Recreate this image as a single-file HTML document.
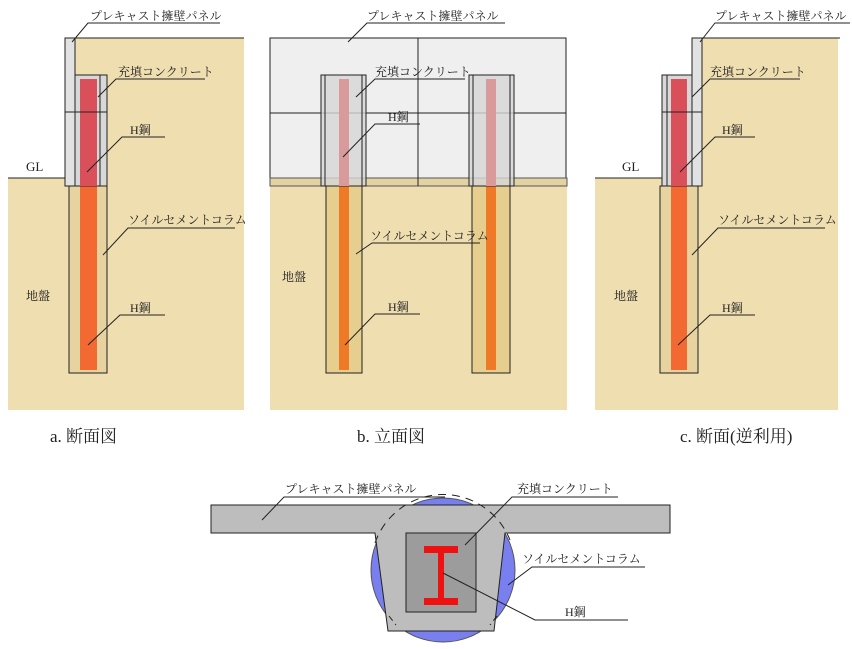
<!DOCTYPE html>
<html><head><meta charset="utf-8"><style>
html,body{margin:0;padding:0;background:#fff;width:852px;height:649px;overflow:hidden}
svg text{font-family:"Liberation Serif","Noto Serif CJK SC","Noto Sans CJK JP",serif;fill:#222}
</style></head><body>
<svg width="852" height="649" viewBox="0 0 852 649" xmlns="http://www.w3.org/2000/svg">
<g stroke="#222" stroke-width="1">
<!-- Panel a -->
<rect x="8" y="178" width="236" height="232" fill="#efdeb0" stroke="none"/>
<rect x="75" y="38" width="169" height="140" fill="#efdeb0" stroke="none"/>
<line x1="75" y1="38" x2="244" y2="38"/>
<line x1="8" y1="178" x2="65" y2="178"/>
<rect x="69" y="186" width="38" height="187" fill="#e6d3a0"/>
<rect x="80" y="186" width="17" height="184" fill="#f26a32" stroke="none"/>
<rect x="65" y="38" width="10" height="148" fill="#e2e2e2"/>
<rect x="75" y="75" width="32" height="111" fill="#d8d8d8"/>
<rect x="80" y="79" width="17" height="107" fill="#d9505a" stroke="none"/>
<line x1="100" y1="75" x2="100" y2="186"/>
<line x1="65" y1="112" x2="107" y2="112"/>
<!-- Panel b -->
<rect x="270" y="178" width="297" height="232" fill="#efdeb0" stroke="none"/>
<rect x="270" y="38" width="296" height="148" fill="#efefef"/>
<rect x="270" y="178" width="297" height="8" fill="#e4d3a2" stroke="#555"/>
<line x1="418" y1="38" x2="418" y2="186"/>
<line x1="270" y1="113" x2="566" y2="113"/>
<rect x="326" y="186" width="36" height="187" fill="#e6cf8e"/>
<rect x="339" y="186" width="10" height="184" fill="#ee7a28" stroke="none"/>
<rect x="472" y="186" width="38" height="187" fill="#e6cf8e"/>
<rect x="486" y="186" width="10" height="184" fill="#ee7a28" stroke="none"/>
<rect x="321" y="75" width="45" height="111" fill="#d6d6d6" fill-opacity="0.8"/>
<line x1="325" y1="75" x2="325" y2="186"/><line x1="362" y1="75" x2="362" y2="186"/>
<rect x="339" y="79" width="10" height="107" fill="#d99a9c" stroke="none"/>
<rect x="469" y="75" width="45" height="111" fill="#d6d6d6" fill-opacity="0.8"/>
<line x1="473" y1="75" x2="473" y2="186"/><line x1="510" y1="75" x2="510" y2="186"/>
<rect x="486" y="79" width="10" height="107" fill="#d99a9c" stroke="none"/>
<!-- Panel c -->
<rect x="595" y="178" width="243" height="232" fill="#efdeb0" stroke="none"/>
<rect x="702" y="38" width="136" height="140" fill="#efdeb0" stroke="none"/>
<line x1="702" y1="38" x2="840" y2="38"/>
<line x1="595" y1="178" x2="662" y2="178"/>
<rect x="660" y="186" width="38" height="187" fill="#e6d3a0"/>
<rect x="671" y="186" width="16" height="184" fill="#f26a32" stroke="none"/>
<rect x="692" y="38" width="10" height="148" fill="#e2e2e2"/>
<rect x="662" y="75" width="30" height="111" fill="#d8d8d8"/>
<line x1="667" y1="75" x2="667" y2="186"/>
<rect x="671" y="79" width="16" height="107" fill="#d9505a" stroke="none"/>
<line x1="662" y1="112" x2="702" y2="112"/>
<!-- leaders a -->
<polyline fill="none" points="72,42 88,23 220,23"/>
<polyline fill="none" points="98,97 116,79 205,79"/>
<polyline fill="none" points="87,172 122,137 165,137"/>
<polyline fill="none" points="103,255 128,228 235,228"/>
<polyline fill="none" points="88,345 120,315 165,315"/>
<!-- leaders b -->
<polyline fill="none" points="348,42 367,23 505,23"/>
<polyline fill="none" points="356,97 375,79 465,79"/>
<polyline fill="none" points="343,157 375,124 420,124"/>
<polyline fill="none" points="356,254 372,243 480,243"/>
<polyline fill="none" points="345,345 375,314 420,314"/>
<!-- leaders c -->
<polyline fill="none" points="700,42 715,23 850,23"/>
<polyline fill="none" points="692,97 710,79 800,79"/>
<polyline fill="none" points="680,172 715,137 755,137"/>
<polyline fill="none" points="692,255 718,228 825,228"/>
<polyline fill="none" points="678,345 710,315 755,315"/>
<!-- bottom -->
<circle cx="443" cy="570" r="72" fill="#7a7ff0" stroke="#555"/>
<path d="M211,505 H670 V533 H505 L494,631 H388 L375,533 H211 Z" fill="#bdbdbd"/>
<path d="M375,543 A72 72 0 0 1 510,540" fill="none" stroke-dasharray="8,6"/>
<line x1="389" y1="616" x2="396" y2="625" stroke-dasharray="6,4"/>
<line x1="497" y1="616" x2="490" y2="625" stroke-dasharray="6,4"/>
<rect x="406" y="533" width="70" height="79" fill="#9c9c9c"/>
<g fill="#ee1111" stroke="none">
<rect x="424" y="546" width="34" height="7"/><rect x="424" y="598" width="34" height="7"/><rect x="438" y="546" width="6" height="59"/>
</g>
<polyline fill="none" points="262,520 284,497 445,497"/>
<polyline fill="none" points="465,545 512,497 618,497"/>
<polyline fill="none" points="508,585 532,567 645,567"/>
<polyline fill="none" points="443,573 535,620 628,620"/>
</g>
<g font-size="12">
<text x="90" y="20">プレキャスト擁壁パネル</text>
<text x="118" y="76">充填コンクリート</text>
<text x="130" y="134">H鋼</text>
<text x="26" y="171" font-size="13">GL</text>
<text x="128" y="224">ソイルセメントコラム</text>
<text x="26" y="300">地盤</text>
<text x="130" y="312">H鋼</text>

<text x="367" y="20">プレキャスト擁壁パネル</text>
<text x="375" y="76">充填コンクリート</text>
<text x="388" y="121">H鋼</text>
<text x="370" y="240">ソイルセメントコラム</text>
<text x="282" y="281">地盤</text>
<text x="388" y="311">H鋼</text>

<text x="715" y="20">プレキャスト擁壁パネル</text>
<text x="710" y="76">充填コンクリート</text>
<text x="722" y="134">H鋼</text>
<text x="622" y="171" font-size="13">GL</text>
<text x="718" y="224">ソイルセメントコラム</text>
<text x="614" y="300">地盤</text>
<text x="722" y="312">H鋼</text>

<text x="285" y="493">プレキャスト擁壁パネル</text>
<text x="517" y="493">充填コンクリート</text>
<text x="522" y="563">ソイルセメントコラム</text>
<text x="565" y="616">H鋼</text>
</g>
<g font-size="17">
<text x="50" y="442">a. 断面図</text>
<text x="357" y="442">b. 立面図</text>
<text x="680" y="442">c. 断面(逆利用)</text>
</g>
</svg>
</body></html>
